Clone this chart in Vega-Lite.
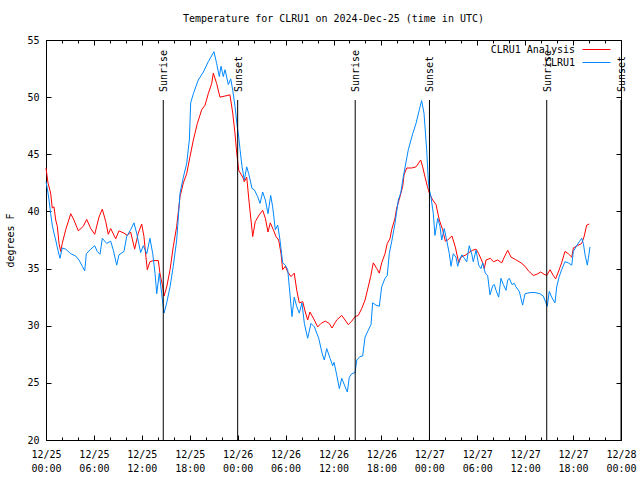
{
  "$schema": "https://vega.github.io/schema/vega-lite/v6.json",
  "width": 575,
  "height": 400,
  "autosize": "none",
  "padding": {"left": 46, "top": 40, "right": 19, "bottom": 40},
  "background": "white",
  "title": {"text": "Temperature for CLRU1 on 2024-Dec-25 (time in UTC)", "anchor": "middle", "font": "DejaVu Sans Mono", "fontSize": 10, "fontWeight": "normal", "offset": 11, "color": "black"},
  "config": {
    "font": "DejaVu Sans Mono",
    "view": {"stroke": "black", "strokeWidth": 1},
    "axis": {"grid": false, "domain": false, "labelFont": "DejaVu Sans Mono", "labelFontSize": 10, "labelColor": "black", "tickColor": "black", "titleFont": "DejaVu Sans Mono", "titleFontSize": 10, "titleFontWeight": "normal", "titleColor": "black"},
    "legend": {"labelFont": "DejaVu Sans Mono", "labelFontSize": 10, "labelColor": "black"}
  },
  "datasets": {
    "ana": [
      {"t":"2024-12-25T00:00Z","v":43.8},{"t":"2024-12-25T00:15Z","v":42.5},{"t":"2024-12-25T00:35Z","v":41.6},{"t":"2024-12-25T00:47Z","v":40.3},{"t":"2024-12-25T01:00Z","v":40.4},{"t":"2024-12-25T01:13Z","v":39.25},{"t":"2024-12-25T01:25Z","v":38.7},{"t":"2024-12-25T01:38Z","v":37.2},{"t":"2024-12-25T01:50Z","v":36.5},{"t":"2024-12-25T02:02Z","v":37.2},{"t":"2024-12-25T02:28Z","v":38.4},{"t":"2024-12-25T03:06Z","v":39.8},{"t":"2024-12-25T03:30Z","v":39.25},{"t":"2024-12-25T04:03Z","v":38.3},{"t":"2024-12-25T04:40Z","v":38.7},{"t":"2024-12-25T05:06Z","v":39.3},{"t":"2024-12-25T05:36Z","v":38.5},{"t":"2024-12-25T06:06Z","v":38.0},{"t":"2024-12-25T06:38Z","v":39.5},{"t":"2024-12-25T07:03Z","v":40.2},{"t":"2024-12-25T07:29Z","v":39.1},{"t":"2024-12-25T07:48Z","v":38.0},{"t":"2024-12-25T08:06Z","v":38.5},{"t":"2024-12-25T08:44Z","v":37.6},{"t":"2024-12-25T09:08Z","v":38.3},{"t":"2024-12-25T09:46Z","v":38.1},{"t":"2024-12-25T10:11Z","v":37.9},{"t":"2024-12-25T10:36Z","v":38.2},{"t":"2024-12-25T11:06Z","v":36.7},{"t":"2024-12-25T11:33Z","v":38.1},{"t":"2024-12-25T11:59Z","v":38.9},{"t":"2024-12-25T12:16Z","v":37.8},{"t":"2024-12-25T12:31Z","v":36.0},{"t":"2024-12-25T12:41Z","v":34.9},{"t":"2024-12-25T13:01Z","v":35.6},{"t":"2024-12-25T13:26Z","v":35.7},{"t":"2024-12-25T14:04Z","v":35.7},{"t":"2024-12-25T14:16Z","v":34.6},{"t":"2024-12-25T14:37Z","v":33.4},{"t":"2024-12-25T14:47Z","v":32.6},{"t":"2024-12-25T15:07Z","v":33.4},{"t":"2024-12-25T15:32Z","v":34.9},{"t":"2024-12-25T15:56Z","v":36.9},{"t":"2024-12-25T16:22Z","v":38.7},{"t":"2024-12-25T16:47Z","v":41.3},{"t":"2024-12-25T17:12Z","v":42.5},{"t":"2024-12-25T17:37Z","v":43.3},{"t":"2024-12-25T18:02Z","v":44.8},{"t":"2024-12-25T18:27Z","v":46.25},{"t":"2024-12-25T18:57Z","v":47.7},{"t":"2024-12-25T19:30Z","v":48.9},{"t":"2024-12-25T19:55Z","v":49.3},{"t":"2024-12-25T20:19Z","v":50.3},{"t":"2024-12-25T20:45Z","v":51.2},{"t":"2024-12-25T20:57Z","v":52.1},{"t":"2024-12-25T21:22Z","v":51.2},{"t":"2024-12-25T21:47Z","v":50.0},{"t":"2024-12-25T22:25Z","v":50.1},{"t":"2024-12-25T23:02Z","v":50.2},{"t":"2024-12-25T23:23Z","v":48.6},{"t":"2024-12-25T23:40Z","v":46.8},{"t":"2024-12-25T23:53Z","v":45.1},
      {"t":"2024-12-26T00:08Z","v":43.6},{"t":"2024-12-26T00:38Z","v":43.0},{"t":"2024-12-26T00:50Z","v":42.6},{"t":"2024-12-26T01:08Z","v":43.0},{"t":"2024-12-26T01:27Z","v":40.7},{"t":"2024-12-26T01:40Z","v":39.25},{"t":"2024-12-26T01:53Z","v":37.8},{"t":"2024-12-26T02:12Z","v":39.1},{"t":"2024-12-26T02:42Z","v":39.7},{"t":"2024-12-26T03:08Z","v":40.1},{"t":"2024-12-26T03:28Z","v":39.4},{"t":"2024-12-26T03:48Z","v":38.2},{"t":"2024-12-26T04:05Z","v":39.0},{"t":"2024-12-26T04:28Z","v":38.4},{"t":"2024-12-26T04:48Z","v":37.8},{"t":"2024-12-26T05:08Z","v":37.5},{"t":"2024-12-26T05:26Z","v":36.3},{"t":"2024-12-26T05:38Z","v":34.9},{"t":"2024-12-26T05:58Z","v":35.2},{"t":"2024-12-26T06:16Z","v":34.7},{"t":"2024-12-26T06:41Z","v":34.3},{"t":"2024-12-26T07:05Z","v":34.6},{"t":"2024-12-26T07:24Z","v":33.1},{"t":"2024-12-26T07:43Z","v":32.0},{"t":"2024-12-26T08:09Z","v":32.1},{"t":"2024-12-26T08:28Z","v":31.2},{"t":"2024-12-26T08:46Z","v":30.5},{"t":"2024-12-26T09:03Z","v":31.2},{"t":"2024-12-26T09:36Z","v":30.5},{"t":"2024-12-26T10:01Z","v":29.9},{"t":"2024-12-26T10:26Z","v":30.2},{"t":"2024-12-26T10:58Z","v":30.4},{"t":"2024-12-26T11:28Z","v":30.2},{"t":"2024-12-26T11:49Z","v":29.8},{"t":"2024-12-26T12:14Z","v":30.3},{"t":"2024-12-26T12:24Z","v":30.5},{"t":"2024-12-26T13:02Z","v":30.9},{"t":"2024-12-26T13:51Z","v":30.1},{"t":"2024-12-26T14:17Z","v":30.4},{"t":"2024-12-26T14:42Z","v":30.8},{"t":"2024-12-26T15:06Z","v":30.9},{"t":"2024-12-26T15:32Z","v":31.5},{"t":"2024-12-26T15:57Z","v":32.25},{"t":"2024-12-26T16:21Z","v":33.4},{"t":"2024-12-26T16:39Z","v":34.3},{"t":"2024-12-26T16:59Z","v":35.5},{"t":"2024-12-26T17:25Z","v":35.0},{"t":"2024-12-26T17:44Z","v":34.6},{"t":"2024-12-26T18:02Z","v":35.5},{"t":"2024-12-26T18:27Z","v":36.3},{"t":"2024-12-26T18:44Z","v":37.2},{"t":"2024-12-26T19:04Z","v":37.6},{"t":"2024-12-26T19:17Z","v":38.4},{"t":"2024-12-26T19:42Z","v":39.4},{"t":"2024-12-26T19:55Z","v":40.3},{"t":"2024-12-26T20:20Z","v":41.3},{"t":"2024-12-26T20:40Z","v":42.2},{"t":"2024-12-26T20:50Z","v":43.2},{"t":"2024-12-26T21:10Z","v":43.8},{"t":"2024-12-26T21:48Z","v":43.8},{"t":"2024-12-26T22:20Z","v":43.9},{"t":"2024-12-26T22:55Z","v":44.5},{"t":"2024-12-26T23:10Z","v":43.9},{"t":"2024-12-26T23:28Z","v":43.0},{"t":"2024-12-26T23:45Z","v":42.2},
      {"t":"2024-12-27T00:00Z","v":41.6},{"t":"2024-12-27T00:25Z","v":41.0},{"t":"2024-12-27T00:50Z","v":40.6},{"t":"2024-12-27T01:15Z","v":39.25},{"t":"2024-12-27T01:40Z","v":38.4},{"t":"2024-12-27T02:00Z","v":37.4},{"t":"2024-12-27T02:18Z","v":37.5},{"t":"2024-12-27T02:50Z","v":37.85},{"t":"2024-12-27T03:15Z","v":36.9},{"t":"2024-12-27T03:41Z","v":35.5},{"t":"2024-12-27T03:58Z","v":36.0},{"t":"2024-12-27T04:35Z","v":36.2},{"t":"2024-12-27T04:56Z","v":36.4},{"t":"2024-12-27T05:26Z","v":36.6},{"t":"2024-12-27T05:51Z","v":36.7},{"t":"2024-12-27T06:11Z","v":36.3},{"t":"2024-12-27T06:41Z","v":35.5},{"t":"2024-12-27T06:53Z","v":35.0},{"t":"2024-12-27T07:06Z","v":35.75},{"t":"2024-12-27T07:38Z","v":35.9},{"t":"2024-12-27T08:01Z","v":35.6},{"t":"2024-12-27T08:34Z","v":35.75},{"t":"2024-12-27T09:04Z","v":35.5},{"t":"2024-12-27T09:23Z","v":36.0},{"t":"2024-12-27T09:49Z","v":36.6},{"t":"2024-12-27T10:14Z","v":36.0},{"t":"2024-12-27T10:46Z","v":35.8},{"t":"2024-12-27T11:29Z","v":35.5},{"t":"2024-12-27T11:59Z","v":35.2},{"t":"2024-12-27T12:24Z","v":34.8},{"t":"2024-12-27T13:01Z","v":34.4},{"t":"2024-12-27T13:27Z","v":34.5},{"t":"2024-12-27T13:57Z","v":34.7},{"t":"2024-12-27T14:22Z","v":34.5},{"t":"2024-12-27T14:42Z","v":34.4},{"t":"2024-12-27T15:07Z","v":34.9},{"t":"2024-12-27T15:31Z","v":34.4},{"t":"2024-12-27T15:49Z","v":34.1},{"t":"2024-12-27T16:09Z","v":34.7},{"t":"2024-12-27T16:34Z","v":35.5},{"t":"2024-12-27T16:59Z","v":36.5},{"t":"2024-12-27T17:24Z","v":36.3},{"t":"2024-12-27T17:50Z","v":36.0},{"t":"2024-12-27T18:02Z","v":36.8},{"t":"2024-12-27T18:32Z","v":37.0},{"t":"2024-12-27T19:05Z","v":37.2},{"t":"2024-12-27T19:24Z","v":37.85},{"t":"2024-12-27T19:42Z","v":38.8},{"t":"2024-12-27T20:02Z","v":38.9}
    ],
    "obs": [
      {"t":"2024-12-25T00:00Z","v":42.6},{"t":"2024-12-25T00:10Z","v":42.0},{"t":"2024-12-25T00:23Z","v":41.0},{"t":"2024-12-25T00:35Z","v":39.8},{"t":"2024-12-25T00:47Z","v":38.8},{"t":"2024-12-25T01:00Z","v":38.1},{"t":"2024-12-25T01:13Z","v":37.5},{"t":"2024-12-25T01:30Z","v":36.6},{"t":"2024-12-25T01:45Z","v":35.9},{"t":"2024-12-25T02:02Z","v":36.8},{"t":"2024-12-25T02:28Z","v":36.7},{"t":"2024-12-25T03:06Z","v":36.3},{"t":"2024-12-25T03:43Z","v":36.1},{"t":"2024-12-25T04:08Z","v":35.75},{"t":"2024-12-25T04:33Z","v":35.2},{"t":"2024-12-25T04:51Z","v":34.8},{"t":"2024-12-25T05:03Z","v":36.3},{"t":"2024-12-25T05:36Z","v":36.7},{"t":"2024-12-25T06:06Z","v":37.0},{"t":"2024-12-25T06:25Z","v":36.5},{"t":"2024-12-25T06:46Z","v":36.25},{"t":"2024-12-25T07:03Z","v":37.65},{"t":"2024-12-25T07:36Z","v":37.2},{"t":"2024-12-25T08:06Z","v":37.4},{"t":"2024-12-25T08:26Z","v":36.6},{"t":"2024-12-25T08:51Z","v":35.3},{"t":"2024-12-25T09:08Z","v":36.2},{"t":"2024-12-25T09:46Z","v":36.5},{"t":"2024-12-25T10:06Z","v":37.8},{"t":"2024-12-25T10:36Z","v":38.4},{"t":"2024-12-25T11:01Z","v":39.0},{"t":"2024-12-25T11:21Z","v":38.1},{"t":"2024-12-25T11:51Z","v":36.4},{"t":"2024-12-25T12:11Z","v":37.0},{"t":"2024-12-25T12:37Z","v":36.3},{"t":"2024-12-25T13:01Z","v":37.65},{"t":"2024-12-25T13:22Z","v":36.3},{"t":"2024-12-25T13:39Z","v":34.6},{"t":"2024-12-25T13:52Z","v":32.8},{"t":"2024-12-25T14:11Z","v":34.6},{"t":"2024-12-25T14:29Z","v":32.8},{"t":"2024-12-25T14:47Z","v":31.1},{"t":"2024-12-25T15:07Z","v":32.0},{"t":"2024-12-25T15:32Z","v":33.4},{"t":"2024-12-25T15:56Z","v":35.2},{"t":"2024-12-25T16:22Z","v":37.5},{"t":"2024-12-25T16:47Z","v":41.6},{"t":"2024-12-25T17:12Z","v":43.0},{"t":"2024-12-25T17:37Z","v":44.2},{"t":"2024-12-25T17:57Z","v":46.25},{"t":"2024-12-25T18:07Z","v":49.5},{"t":"2024-12-25T18:27Z","v":50.3},{"t":"2024-12-25T19:04Z","v":51.5},{"t":"2024-12-25T19:42Z","v":52.2},{"t":"2024-12-25T20:19Z","v":53.1},{"t":"2024-12-25T21:02Z","v":53.98},{"t":"2024-12-25T21:22Z","v":52.95},{"t":"2024-12-25T21:42Z","v":51.8},{"t":"2024-12-25T21:55Z","v":52.7},{"t":"2024-12-25T22:12Z","v":51.8},{"t":"2024-12-25T22:25Z","v":52.4},{"t":"2024-12-25T22:50Z","v":51.1},{"t":"2024-12-25T23:08Z","v":51.6},{"t":"2024-12-25T23:23Z","v":50.6},{"t":"2024-12-25T23:40Z","v":49.2},{"t":"2024-12-25T23:57Z","v":47.4},
      {"t":"2024-12-26T00:08Z","v":46.5},{"t":"2024-12-26T00:18Z","v":45.4},{"t":"2024-12-26T00:33Z","v":43.9},{"t":"2024-12-26T00:50Z","v":42.75},{"t":"2024-12-26T01:08Z","v":43.9},{"t":"2024-12-26T01:23Z","v":43.3},{"t":"2024-12-26T01:48Z","v":42.0},{"t":"2024-12-26T02:05Z","v":41.9},{"t":"2024-12-26T02:30Z","v":41.3},{"t":"2024-12-26T02:48Z","v":40.7},{"t":"2024-12-26T03:08Z","v":41.7},{"t":"2024-12-26T03:28Z","v":41.0},{"t":"2024-12-26T03:48Z","v":39.8},{"t":"2024-12-26T04:08Z","v":41.4},{"t":"2024-12-26T04:23Z","v":40.4},{"t":"2024-12-26T04:43Z","v":38.4},{"t":"2024-12-26T05:01Z","v":38.8},{"t":"2024-12-26T05:18Z","v":37.5},{"t":"2024-12-26T05:38Z","v":35.5},{"t":"2024-12-26T05:58Z","v":35.3},{"t":"2024-12-26T06:16Z","v":34.9},{"t":"2024-12-26T06:28Z","v":33.4},{"t":"2024-12-26T06:48Z","v":30.8},{"t":"2024-12-26T07:05Z","v":32.5},{"t":"2024-12-26T07:23Z","v":31.7},{"t":"2024-12-26T07:43Z","v":31.1},{"t":"2024-12-26T08:03Z","v":32.0},{"t":"2024-12-26T08:21Z","v":30.2},{"t":"2024-12-26T08:46Z","v":28.9},{"t":"2024-12-26T09:11Z","v":30.2},{"t":"2024-12-26T09:36Z","v":29.9},{"t":"2024-12-26T10:09Z","v":28.9},{"t":"2024-12-26T10:34Z","v":27.6},{"t":"2024-12-26T10:51Z","v":27.0},{"t":"2024-12-26T11:09Z","v":28.0},{"t":"2024-12-26T11:34Z","v":27.15},{"t":"2024-12-26T11:54Z","v":26.5},{"t":"2024-12-26T12:04Z","v":26.8},{"t":"2024-12-26T12:24Z","v":25.7},{"t":"2024-12-26T12:44Z","v":24.5},{"t":"2024-12-26T13:02Z","v":25.4},{"t":"2024-12-26T13:26Z","v":24.7},{"t":"2024-12-26T13:44Z","v":24.2},{"t":"2024-12-26T13:59Z","v":25.5},{"t":"2024-12-26T14:17Z","v":25.8},{"t":"2024-12-26T14:42Z","v":25.9},{"t":"2024-12-26T14:55Z","v":27.0},{"t":"2024-12-26T15:19Z","v":27.3},{"t":"2024-12-26T15:39Z","v":27.35},{"t":"2024-12-26T15:57Z","v":29.0},{"t":"2024-12-26T16:21Z","v":29.6},{"t":"2024-12-26T16:42Z","v":30.1},{"t":"2024-12-26T16:54Z","v":32.0},{"t":"2024-12-26T17:19Z","v":31.8},{"t":"2024-12-26T17:44Z","v":31.7},{"t":"2024-12-26T18:02Z","v":33.4},{"t":"2024-12-26T18:27Z","v":34.15},{"t":"2024-12-26T18:44Z","v":34.4},{"t":"2024-12-26T18:59Z","v":36.3},{"t":"2024-12-26T19:17Z","v":37.35},{"t":"2024-12-26T19:42Z","v":38.95},{"t":"2024-12-26T20:07Z","v":41.0},{"t":"2024-12-26T20:25Z","v":41.6},{"t":"2024-12-26T20:44Z","v":43.0},{"t":"2024-12-26T21:22Z","v":45.4},{"t":"2024-12-26T21:55Z","v":46.8},{"t":"2024-12-26T22:20Z","v":47.7},{"t":"2024-12-26T22:45Z","v":48.9},{"t":"2024-12-26T23:02Z","v":49.7},{"t":"2024-12-26T23:20Z","v":48.6},{"t":"2024-12-26T23:40Z","v":45.4},{"t":"2024-12-26T23:52Z","v":42.75},
      {"t":"2024-12-27T00:00Z","v":41.9},{"t":"2024-12-27T00:12Z","v":41.3},{"t":"2024-12-27T00:30Z","v":39.8},{"t":"2024-12-27T00:42Z","v":37.9},{"t":"2024-12-27T01:03Z","v":39.4},{"t":"2024-12-27T01:20Z","v":38.7},{"t":"2024-12-27T01:33Z","v":37.5},{"t":"2024-12-27T01:52Z","v":38.5},{"t":"2024-12-27T02:10Z","v":37.5},{"t":"2024-12-27T02:30Z","v":36.3},{"t":"2024-12-27T02:43Z","v":35.2},{"t":"2024-12-27T03:00Z","v":36.3},{"t":"2024-12-27T03:20Z","v":36.0},{"t":"2024-12-27T03:33Z","v":35.2},{"t":"2024-12-27T03:45Z","v":35.75},{"t":"2024-12-27T04:05Z","v":36.2},{"t":"2024-12-27T04:23Z","v":35.9},{"t":"2024-12-27T04:41Z","v":35.6},{"t":"2024-12-27T05:00Z","v":37.0},{"t":"2024-12-27T05:20Z","v":36.2},{"t":"2024-12-27T05:30Z","v":35.6},{"t":"2024-12-27T05:51Z","v":36.6},{"t":"2024-12-27T06:11Z","v":35.3},{"t":"2024-12-27T06:28Z","v":35.0},{"t":"2024-12-27T06:41Z","v":35.5},{"t":"2024-12-27T07:00Z","v":34.6},{"t":"2024-12-27T07:18Z","v":34.4},{"t":"2024-12-27T07:36Z","v":32.7},{"t":"2024-12-27T07:56Z","v":33.5},{"t":"2024-12-27T08:08Z","v":33.6},{"t":"2024-12-27T08:21Z","v":33.1},{"t":"2024-12-27T08:41Z","v":32.5},{"t":"2024-12-27T08:58Z","v":34.15},{"t":"2024-12-27T09:16Z","v":33.6},{"t":"2024-12-27T09:36Z","v":33.1},{"t":"2024-12-27T09:49Z","v":34.0},{"t":"2024-12-27T10:01Z","v":34.15},{"t":"2024-12-27T10:21Z","v":33.6},{"t":"2024-12-27T10:38Z","v":33.7},{"t":"2024-12-27T10:51Z","v":33.4},{"t":"2024-12-27T11:16Z","v":33.0},{"t":"2024-12-27T11:41Z","v":31.8},{"t":"2024-12-27T11:59Z","v":32.8},{"t":"2024-12-27T12:36Z","v":32.9},{"t":"2024-12-27T13:14Z","v":32.9},{"t":"2024-12-27T13:51Z","v":32.8},{"t":"2024-12-27T14:16Z","v":32.6},{"t":"2024-12-27T14:36Z","v":32.0},{"t":"2024-12-27T14:46Z","v":31.7},{"t":"2024-12-27T15:01Z","v":33.0},{"t":"2024-12-27T15:19Z","v":32.5},{"t":"2024-12-27T15:31Z","v":32.25},{"t":"2024-12-27T15:44Z","v":32.0},{"t":"2024-12-27T15:57Z","v":33.4},{"t":"2024-12-27T16:16Z","v":34.3},{"t":"2024-12-27T16:34Z","v":34.9},{"t":"2024-12-27T16:59Z","v":35.6},{"t":"2024-12-27T17:24Z","v":35.5},{"t":"2024-12-27T17:50Z","v":35.3},{"t":"2024-12-27T18:02Z","v":36.5},{"t":"2024-12-27T18:22Z","v":36.9},{"t":"2024-12-27T18:47Z","v":37.35},{"t":"2024-12-27T19:05Z","v":37.65},{"t":"2024-12-27T19:17Z","v":37.2},{"t":"2024-12-27T19:30Z","v":36.2},{"t":"2024-12-27T19:47Z","v":35.3},{"t":"2024-12-27T19:55Z","v":35.9},{"t":"2024-12-27T20:07Z","v":36.9}
    ],
    "sun": [
      {"t":"2024-12-25T14:41Z","label":"Sunrise"},{"t":"2024-12-26T00:00Z","label":"Sunset"},{"t":"2024-12-26T14:43Z","label":"Sunrise"},{"t":"2024-12-27T00:01Z","label":"Sunset"},{"t":"2024-12-27T14:42Z","label":"Sunrise"},{"t":"2024-12-28T00:00Z","label":"Sunset"}
    ]
  },
  "resolve": {"axis": {"x": "independent", "y": "independent"}},
  "layer": [
    {
      "data": {"name": "ana"},
      "mark": {"type": "line", "strokeWidth": 1, "interpolate": "linear"},
      "encoding": {
        "x": {"field": "t", "type": "temporal",
          "scale": {"type": "utc", "domain": [1735084800000, 1735344000000]},
          "axis": {"orient": "bottom", "title": null, "values": [1735084800000,1735106400000,1735128000000,1735149600000,1735171200000,1735192800000,1735214400000,1735236000000,1735257600000,1735279200000,1735300800000,1735322400000,1735344000000], "ticks": false, "labelPadding": 9, "labelOverlap": false, "labelFlush": false, "labelLineHeight": 14, "labelBaseline": "top",
            "labelExpr": "[utcFormat(datum.value, '%m/%d'), utcFormat(datum.value, '%H:%M')]"}},
        "y": {"field": "v", "type": "quantitative", "scale": {"domain": [20, 55], "nice": false, "zero": false},
          "axis": {"orient": "left", "title": "degrees F", "values": [20,25,30,35,40,45,50,55], "ticks": false, "labelPadding": 7, "titlePadding": 11}},
        "color": {"datum": "CLRU1 Analysis", "type": "nominal",
          "scale": {"domain": ["CLRU1 Analysis", "CLRU1"], "range": ["#ff0000", "#0088ff"]},
          "legend": {"title": null, "orient": "none", "legendX": 543, "legendY": 2, "direction": "vertical", "symbolType": "M-2,0H2", "symbolSize": 196, "symbolStrokeWidth": 1, "labelOffset": -29, "labelAlign": "right", "rowPadding": 0}}
      }
    },
    {
      "data": {"name": "obs"},
      "mark": {"type": "line", "strokeWidth": 1, "interpolate": "linear"},
      "encoding": {
        "x": {"field": "t", "type": "temporal",
          "axis": {"orient": "bottom", "title": null, "labels": false, "values": [1735084800000,1735106400000,1735128000000,1735149600000,1735171200000,1735192800000,1735214400000,1735236000000,1735257600000,1735279200000,1735300800000,1735322400000,1735344000000], "tickSize": 5, "offset": -5}},
        "y": {"field": "v", "type": "quantitative",
          "axis": {"orient": "left", "title": null, "labels": false, "values": [20,25,30,35,40,45,50,55], "tickSize": 5, "offset": -5}},
        "color": {"datum": "CLRU1", "type": "nominal"}
      }
    },
    {
      "data": {"name": "sun"},
      "mark": {"type": "rule", "color": "black", "strokeWidth": 1},
      "encoding": {
        "x": {"field": "t", "type": "temporal",
          "axis": {"orient": "top", "title": null, "labels": false, "values": [1735084800000,1735106400000,1735128000000,1735149600000,1735171200000,1735192800000,1735214400000,1735236000000,1735257600000,1735279200000,1735300800000,1735322400000,1735344000000], "tickSize": 5, "offset": -5}},
        "y": {"datum": 49.75, "axis": null},
        "y2": {"datum": 20}
      }
    },
    {
      "data": {"name": "sun"},
      "mark": {"type": "text", "angle": 270, "align": "left", "baseline": "middle", "fontSize": 10, "font": "DejaVu Sans Mono", "color": "black", "dy": 1},
      "encoding": {
        "x": {"field": "t", "type": "temporal",
          "axis": {"orient": "bottom", "title": null, "labels": false, "values": [1735084800000,1735092000000,1735099200000,1735106400000,1735113600000,1735120800000,1735128000000,1735135200000,1735142400000,1735149600000,1735156800000,1735164000000,1735171200000,1735178400000,1735185600000,1735192800000,1735200000000,1735207200000,1735214400000,1735221600000,1735228800000,1735236000000,1735243200000,1735250400000,1735257600000,1735264800000,1735272000000,1735279200000,1735286400000,1735293600000,1735300800000,1735308000000,1735315200000,1735322400000,1735329600000,1735336800000,1735344000000], "tickSize": 3, "offset": -3}},
        "y": {"datum": 50.45, "axis": null},
        "text": {"field": "label"}
      }
    },
    {
      "data": {"name": "obs"},
      "mark": {"type": "line", "strokeWidth": 1, "opacity": 0},
      "encoding": {
        "x": {"field": "t", "type": "temporal",
          "axis": {"orient": "top", "title": null, "labels": false, "values": [1735084800000,1735092000000,1735099200000,1735106400000,1735113600000,1735120800000,1735128000000,1735135200000,1735142400000,1735149600000,1735156800000,1735164000000,1735171200000,1735178400000,1735185600000,1735192800000,1735200000000,1735207200000,1735214400000,1735221600000,1735228800000,1735236000000,1735243200000,1735250400000,1735257600000,1735264800000,1735272000000,1735279200000,1735286400000,1735293600000,1735300800000,1735308000000,1735315200000,1735322400000,1735329600000,1735336800000,1735344000000], "tickSize": 3, "offset": -3}},
        "y": {"field": "v", "type": "quantitative",
          "axis": {"orient": "right", "title": null, "labels": false, "values": [20,25,30,35,40,45,50,55], "tickSize": 5, "offset": -5}}
      }
    }
  ]
}
